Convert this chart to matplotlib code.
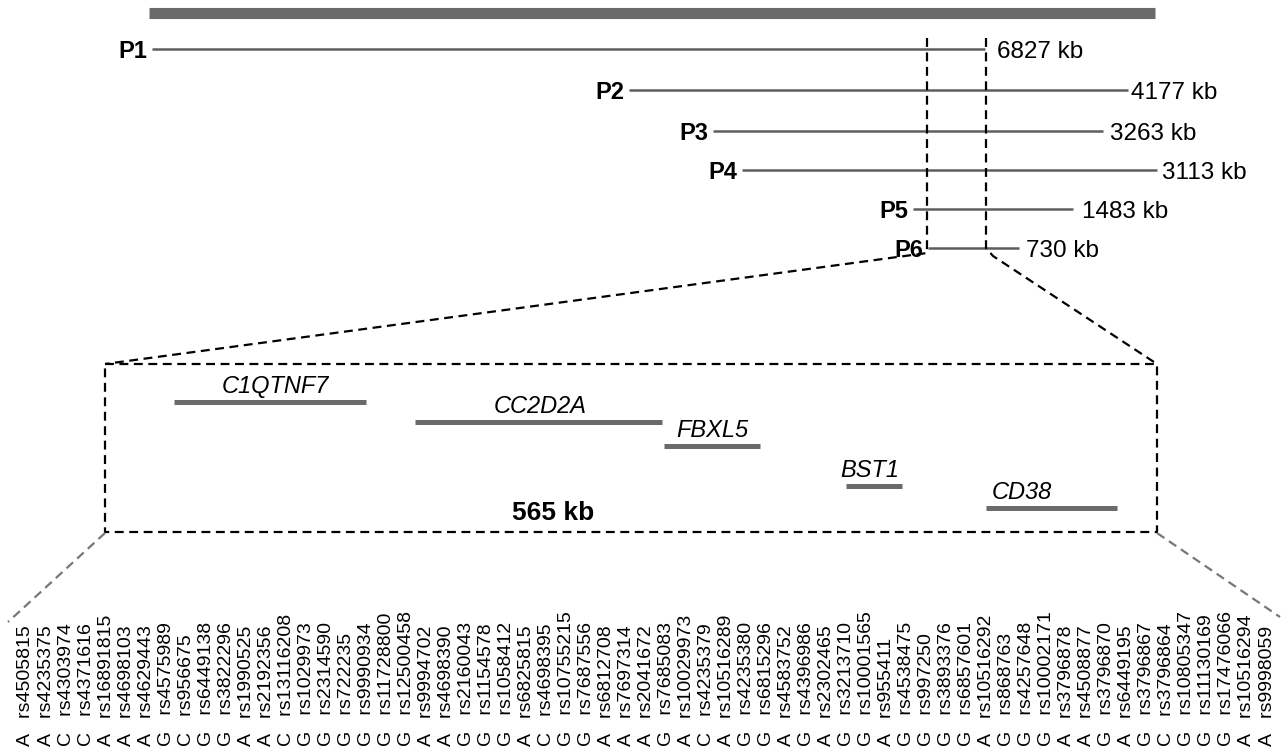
import matplotlib
matplotlib.use("Agg")
import matplotlib.pyplot as plt

plt.rcParams['font.family'] = ['Liberation Sans', 'DejaVu Sans']

# ---- data ----
hap_names = ["P1", "P2", "P3", "P4", "P5", "P6"]
hap_start = [152, 629, 713, 742, 913, 928]
hap_end = [985, 1128, 1103, 1157, 1073, 1019]
hap_kb = ["6827 kb", "4177 kb", "3263 kb", "3113 kb", "1483 kb", "730 kb"]

gene_names = ["C1QTNF7", "CC2D2A", "FBXL5", "BST1", "CD38"]
gene_start = [174, 415, 664, 846, 986]
gene_end = [366, 662, 760, 902, 1117]
gene_label_x = [275, 540, 712, 870, 1022]

region_label = "565 kb"

alleles = ["A", "A", "C", "C", "A", "A", "A", "G", "C", "G",
           "G", "A", "A", "C", "G", "G", "G", "G", "G", "G",
           "A", "A", "G", "G", "G", "A", "C", "G", "G", "A",
           "A", "A", "G", "A", "C", "A", "G", "G", "A", "G",
           "A", "G", "G", "A", "G", "G", "G", "G", "A", "G",
           "G", "G", "A", "A", "G", "A", "G", "C", "G", "G",
           "G", "A", "A"]
snps = ["rs4505815", "rs4235375", "rs4303974", "rs4371616", "rs16891815",
        "rs4698103", "rs4629443", "rs4575989", "rs956675", "rs6449138",
        "rs3822296", "rs1990525", "rs2192356", "rs13116208", "rs1029973",
        "rs2314590", "rs722235", "rs9990934", "rs11728800", "rs12500458",
        "rs9994702", "rs4698390", "rs2160043", "rs1154578", "rs1058412",
        "rs6825815", "rs4698395", "rs10755215", "rs7687556", "rs6812708",
        "rs7697314", "rs2041672", "rs7685083", "rs10029973", "rs4235379",
        "rs10516289", "rs4235380", "rs6815296", "rs4583752", "rs4396986",
        "rs2302465", "rs3213710", "rs10001565", "rs955411", "rs4538475",
        "rs997250", "rs3893376", "rs6857601", "rs10516292", "rs868763",
        "rs4257648", "rs10002171", "rs3796878", "rs4508877", "rs3796870",
        "rs6449195", "rs3796867", "rs3796864", "rs10805347", "rs11130169",
        "rs17476066", "rs10516294", "rs9998059"]

# ---- layout ----
W, H = 1285, 748
fig = plt.figure(figsize=(W / 100, H / 100), dpi=100)
ax = fig.add_axes([0, 0, 1, 1])
ax.set_xlim(0, W)
ax.set_ylim(H, 0)
ax.axis("off")

grey = "#6a6a6a"
line_grey = "#5e5e5e"

# top chromosome bar
ax.plot([149, 1155], [12.5, 12.5], color=grey, lw=8, solid_capstyle="butt")

# haplotypes
hap_y = [49, 90, 131, 170, 209, 248]
kb_gap = [12, 3, 7, 5, 9, 7]
for n, s, e, kb, y, g in zip(hap_names, hap_start, hap_end, hap_kb, hap_y, kb_gap):
    ax.plot([s, e], [y, y], color=line_grey, lw=1.8, solid_capstyle="butt")
    ax.text(s - 5, y, n, ha="right", va="center_baseline", fontsize=17, fontweight="bold")
    ax.text(e + g, y, kb, ha="left", va="center_baseline", fontsize=17.5)

# dashed vertical lines and zoom funnel
box_l, box_r, box_t, box_b = 105, 1157, 364, 532
dash = dict(color="black", lw=1.6, linestyle=(0, (4, 2.5)))
ax.plot([927, 927, box_l], [38, 253, box_t], **dash)
ax.plot([986, 986, 993, box_r], [38, 248, 256, box_t], **dash)
ax.plot([box_l, box_r, box_r, box_l, box_l], [box_t, box_t, box_b, box_b, box_t], **dash)

# genes
gene_y = [402, 422, 446, 486, 508]
for n, s, e, lx, y in zip(gene_names, gene_start, gene_end, gene_label_x, gene_y):
    ax.plot([s, e], [y, y], color=grey, lw=3.6, solid_capstyle="butt")
    ax.text(lx, y - 9, n, ha="center", va="baseline", fontsize=17, style="italic")

ax.text(553, 510, region_label, ha="center", va="center_baseline", fontsize=19, fontweight="bold")

# grey diagonals to SNP list
gdash = dict(color="#777777", lw=1.6, linestyle=(0, (4, 2.5)))
ax.plot([box_l, 8], [box_b + 1, 622], **gdash)
ax.plot([box_r, 1280], [box_b + 1, 617], **gdash)

# SNP labels
x0, x1 = 26, 1267
n = len(snps)
for i, (a, r) in enumerate(zip(alleles, snps)):
    x = x0 + (x1 - x0) * i / (n - 1)
    ax.text(x, 746, a + "   " + r, rotation=90, ha="center", va="bottom",
            fontsize=14)

fig.savefig("out.png", dpi=100)
